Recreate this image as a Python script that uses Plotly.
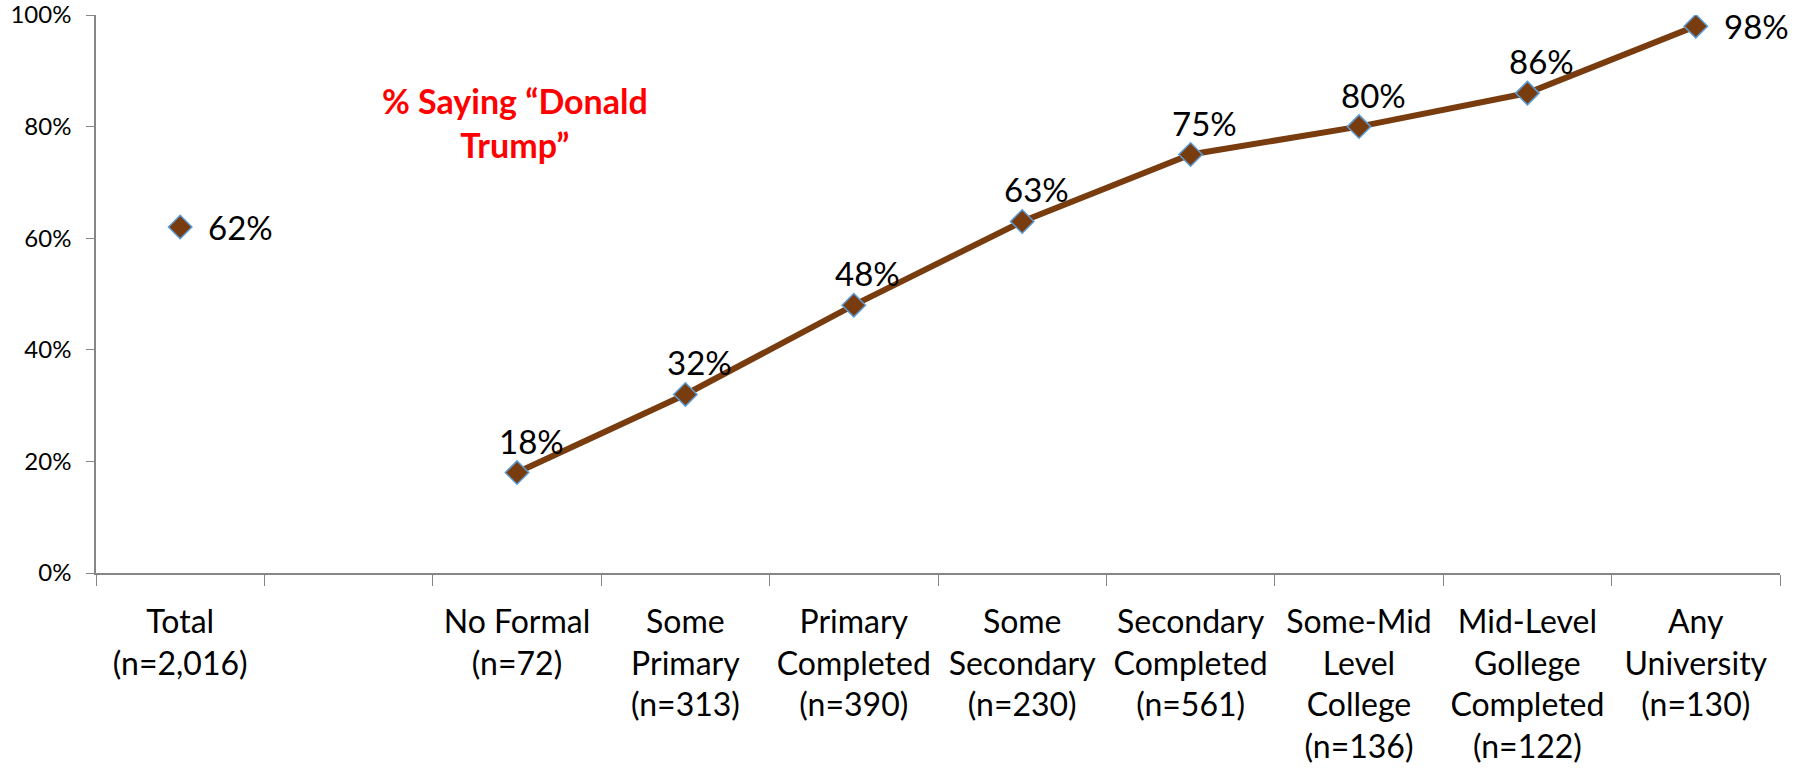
import plotly.graph_objects as go

# categories (the blank one keeps the gap between Total and the education groups)
categories = ["Total", " ", "No Formal", "Some Primary", "Primary Completed",
              "Some Secondary", "Secondary Completed", "Some-Mid Level College",
              "Mid-Level Gollege Completed", "Any University"]
tick_text = ["Total<br>(n=2,016)", "", "No Formal<br>(n=72)", "Some<br>Primary<br>(n=313)",
             "Primary<br>Completed<br>(n=390)", "Some<br>Secondary<br>(n=230)",
             "Secondary<br>Completed<br>(n=561)", "Some-Mid<br>Level<br>College<br>(n=136)",
             "Mid-Level<br>Gollege<br>Completed<br>(n=122)", "Any<br>University<br>(n=130)"]

total_cat = ["Total"]
total_val = [62]
edu_cats = categories[2:]
edu_vals = [18, 32, 48, 63, 75, 80, 86, 98]

brown = "#783C0F"
edge = "#5B9BD5"
font = "Lato"

fig = go.Figure()

fig.add_trace(go.Scatter(
    x=total_cat, y=total_val, mode="markers",
    marker=dict(symbol="diamond", size=18, color=brown, line=dict(color=edge, width=1.5)),
    showlegend=False,
))
fig.add_trace(go.Scatter(
    x=edu_cats, y=edu_vals, mode="lines+markers",
    line=dict(color=brown, width=6),
    marker=dict(symbol="diamond", size=18, color=brown, line=dict(color=edge, width=1.5)),
    showlegend=False,
))

# data labels
for c, v in zip(total_cat, total_val):
    fig.add_annotation(x=c, y=v, text=f"{v}%", showarrow=False, xanchor="left",
                       xshift=26, font=dict(family=font, size=33, color="black"))
for i, (c, v) in enumerate(zip(edu_cats, edu_vals)):
    if i == len(edu_cats) - 1:
        fig.add_annotation(x=c, y=v, text=f"{v}%", showarrow=False, xanchor="left",
                           xshift=26, font=dict(family=font, size=33, color="black"))
    else:
        fig.add_annotation(x=c, y=v, text=f"{v}%", showarrow=False, xshift=14, yshift=32,
                           font=dict(family=font, size=33, color="black"))

fig.add_annotation(x=0.249, y=0.808, xref="paper", yref="paper", showarrow=False,
                   xanchor="center", yanchor="middle",
                   text="<b>% Saying \u201cDonald<br>Trump\u201d</b>", align="center",
                   font=dict(family=font, size=34, color="#FF0000"))

fig.update_layout(
    width=1810, height=777,
    margin=dict(l=96, r=30, t=15, b=204),
    paper_bgcolor="white", plot_bgcolor="white",
    font=dict(family=font, color="black"),
)
fig.update_xaxes(
    type="category", categoryorder="array", categoryarray=categories,
    tickvals=categories, ticktext=tick_text, range=[-0.5, 9.5],
    tickson="boundaries", ticks="outside", ticklen=11, tickcolor="#868686",
    showline=True, linecolor="#868686", linewidth=1.5, showgrid=False,
    tickfont=dict(family=font, size=32, color="black"), automargin=False,
    ticklabelstandoff=20,
)
fig.update_yaxes(
    range=[0, 100], dtick=20, ticksuffix="%", ticks="outside", ticklen=8,
    tickcolor="#868686", showline=True, linecolor="#868686", linewidth=1.5,
    showgrid=False, zeroline=False, tickfont=dict(family=font, size=24, color="black"),
    automargin=False, ticklabelstandoff=10, ticklabeloverflow="allow",
)

# drop the default page margin so the figure sits at the window's corner
fig.write_html("out.html", config={"displayModeBar": False},
               post_script="document.body.style.margin='0';")
